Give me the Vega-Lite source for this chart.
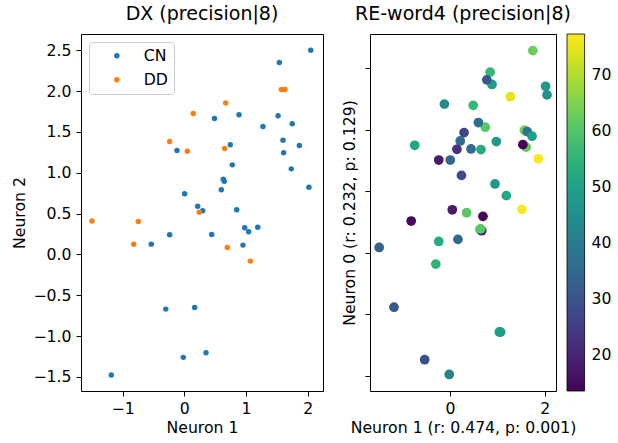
{
  "$schema": "https://vega.github.io/schema/vega-lite/v6.json",
  "padding": {"left": 11, "top": 4, "right": 0, "bottom": 0},
  "config": {
    "font": "DejaVu Sans",
    "view": {"stroke": "black", "strokeWidth": 1},
    "axis": {"grid": false, "domain": false, "tickColor": "black", "tickSize": 5, "tickWidth": 1, "labelFont": "DejaVu Sans", "labelFontSize": 15.7, "labelColor": "black", "titleFont": "DejaVu Sans", "titleFontSize": 15.7, "titleFontWeight": "normal", "titleColor": "black", "labelPadding": 5, "titlePadding": 5},
    "title": {"font": "DejaVu Sans", "fontSize": 19, "fontWeight": "normal", "color": "black", "baseline": "alphabetic", "offset": 9.6},
    "legend": {"labelFont": "DejaVu Sans", "labelFontSize": 15.7, "labelColor": "black"}
  },
  "data": {"values": [
    {"n1": 1.07, "n2": -0.082, "n0": -1.29, "g": "DD", "v": 49},
    {"n1": 2.05, "n2": 2.50, "n0": 2.57, "g": "CN", "v": 46},
    {"n1": 2.02, "n2": 0.824, "n0": 2.71, "g": "CN", "v": 48},
    {"n1": 1.865, "n2": 1.334, "n0": 1.53, "g": "CN", "v": 77},
    {"n1": 1.75, "n2": 1.60, "n0": 3.29, "g": "CN", "v": 63},
    {"n1": 1.61, "n2": 1.244, "n0": 1.72, "g": "CN", "v": 62},
    {"n1": 1.60, "n2": 1.40, "n0": 1.98, "g": "CN", "v": 60},
    {"n1": 1.54, "n2": 2.35, "n0": 1.76, "g": "CN", "v": 14},
    {"n1": 1.52, "n2": 1.70, "n0": 0.707, "g": "CN", "v": 77},
    {"n1": 1.275, "n2": 1.567, "n0": 2.54, "g": "CN", "v": 75},
    {"n1": 1.19, "n2": 0.334, "n0": 0.93, "g": "CN", "v": 52},
    {"n1": 1.043, "n2": 0.277, "n0": -1.288, "g": "CN", "v": 49},
    {"n1": 0.979, "n2": 0.326, "n0": 1.81, "g": "CN", "v": 48},
    {"n1": 0.951, "n2": 0.114, "n0": 1.12, "g": "CN", "v": 48},
    {"n1": 0.887, "n2": 1.71, "n0": 2.74, "g": "CN", "v": 50},
    {"n1": 0.849, "n2": 0.546, "n0": 2.94, "g": "CN", "v": 56},
    {"n1": 0.778, "n2": 1.097, "n0": 2.815, "g": "CN", "v": 31},
    {"n1": 0.746, "n2": 1.342, "n0": 2.044, "g": "CN", "v": 61},
    {"n1": 0.632, "n2": 0.922, "n0": 0.38, "g": "CN", "v": 60},
    {"n1": 0.60, "n2": 0.791, "n0": 2.12, "g": "CN", "v": 37},
    {"n1": 0.49, "n2": 1.665, "n0": 2.40, "g": "CN", "v": 56},
    {"n1": 0.444, "n2": 0.245, "n0": 1.69, "g": "CN", "v": 36},
    {"n1": 0.352, "n2": -1.204, "n0": 0.652, "g": "CN", "v": 61},
    {"n1": 0.298, "n2": 0.534, "n0": 1.956, "g": "CN", "v": 27},
    {"n1": 0.217, "n2": 0.591, "n0": 1.82, "g": "CN", "v": 36},
    {"n1": 0.168, "n2": -0.649, "n0": 0.218, "g": "CN", "v": 35},
    {"n1": 0.006, "n2": 0.742, "n0": 1.51, "g": "CN", "v": 35},
    {"n1": -0.016, "n2": -1.261, "n0": -1.98, "g": "CN", "v": 42},
    {"n1": -0.118, "n2": 1.273, "n0": 2.42, "g": "CN", "v": 44},
    {"n1": -0.237, "n2": 0.24, "n0": 1.51, "g": "CN", "v": 18},
    {"n1": -0.30, "n2": -0.67, "n0": -0.184, "g": "CN", "v": 55},
    {"n1": -0.535, "n2": 0.126, "n0": -1.74, "g": "CN", "v": 29},
    {"n1": -1.183, "n2": -1.478, "n0": -0.885, "g": "CN", "v": 31},
    {"n1": 1.573, "n2": 2.02, "n0": 1.995, "g": "DD", "v": 64},
    {"n1": 1.632, "n2": 2.02, "n0": 1.973, "g": "DD", "v": 38},
    {"n1": 0.697, "n2": 0.086, "n0": 0.593, "g": "DD", "v": 14.5},
    {"n1": 0.671, "n2": 1.856, "n0": 0.36, "g": "DD", "v": 20},
    {"n1": 0.655, "n2": 1.297, "n0": 1.68, "g": "DD", "v": 53},
    {"n1": 0.243, "n2": 0.518, "n0": 1.26, "g": "DD", "v": 28},
    {"n1": 0.146, "n2": 1.726, "n0": 1.685, "g": "DD", "v": 23},
    {"n1": 0.049, "n2": 1.264, "n0": 0.70, "g": "DD", "v": 18},
    {"n1": -0.237, "n2": 1.383, "n0": 0.185, "g": "DD", "v": 53},
    {"n1": -0.745, "n2": 0.404, "n0": 1.75, "g": "DD", "v": 52},
    {"n1": -0.82, "n2": 0.126, "n0": 0.517, "g": "DD", "v": 15},
    {"n1": -1.496, "n2": 0.408, "n0": 0.087, "g": "DD", "v": 33},
    {"n1": 0.648, "n2": 0.897, "n0": 0.39, "g": "CN", "v": 61},
    {"n1": 1.734, "n2": 1.048, "n0": 1.897, "g": "CN", "v": 50}
  ]},
  "spacing": 17,
  "resolve": {"scale": {"color": "independent", "x": "independent", "y": "independent"}, "legend": {"color": "independent"}},
  "hconcat": [
    {
      "width": 242,
      "height": 357,
      "title": "DX (precision|8)",
      "mark": {"type": "circle", "size": 30, "opacity": 1},
      "encoding": {
        "x": {"field": "n1", "type": "quantitative", "scale": {"domain": [-1.674, 2.248], "nice": false, "zero": false}, "axis": {"values": [-1, 0, 1, 2], "format": "d", "title": "Neuron 1"}},
        "y": {"field": "n2", "type": "quantitative", "scale": {"domain": [-1.673, 2.70], "nice": false, "zero": false}, "axis": {"values": [-1.5, -1, -0.5, 0, 0.5, 1, 1.5, 2, 2.5], "format": ".1f", "title": "Neuron 2"}},
        "color": {"field": "g", "type": "nominal", "scale": {"domain": ["CN", "DD"], "range": ["#1f77b4", "#ff7f0e"]},
          "legend": {"orient": "top-left", "title": null, "offset": 8, "padding": 6, "symbolOffset": 14, "labelOffset": 19, "rowPadding": 7, "strokeColor": "#cccccc", "fillColor": "rgba(255,255,255,0.8)", "cornerRadius": 3, "symbolType": "circle", "symbolSize": 30, "symbolStrokeWidth": 0, "symbolOpacity": 1}}
      }
    },
    {
      "width": 186,
      "height": 357,
      "title": "RE-word4 (precision|8)",
      "mark": {"type": "circle", "size": 95, "opacity": 1},
      "encoding": {
        "x": {"field": "n1", "type": "quantitative", "scale": {"domain": [-1.69, 2.24], "nice": false, "zero": false}, "axis": {"values": [0, 2], "format": "d", "title": "Neuron 1 (r: 0.474, p: 0.001)"}},
        "y": {"field": "n0", "type": "quantitative", "scale": {"domain": [-2.249, 3.561], "nice": false, "zero": false}, "axis": {"values": [-2, -1, 0, 1, 2, 3], "labels": false, "title": "Neuron 0 (r: 0.232, p: 0.129)", "titlePadding": 7}},
        "color": {"field": "v", "type": "quantitative", "scale": {"scheme": "viridis", "domain": [13.6, 77.4]},
          "legend": {"orient": "right", "offset": 11, "title": null, "gradientLength": 357, "gradientThickness": 17.6, "values": [20, 30, 40, 50, 60, 70], "labelOffset": 7, "gradientStrokeColor": "black", "gradientStrokeWidth": 0.8}}
      }
    }
  ]
}
